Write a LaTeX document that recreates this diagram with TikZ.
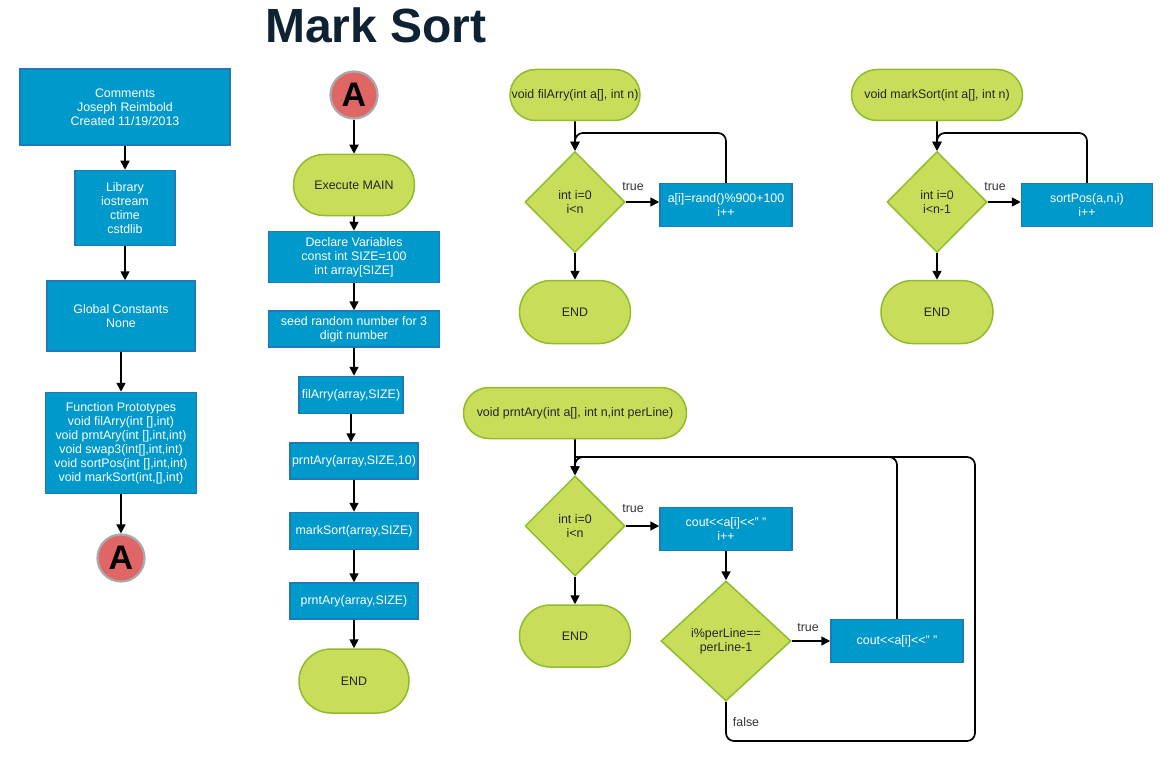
\documentclass[tikz,border=0pt]{standalone}
\usepackage{fontspec}
\setmainfont{Liberation Sans}
\usetikzlibrary{shapes.geometric,shapes.misc,arrows.meta,positioning}

\definecolor{boxblue}{HTML}{0099CC}
\definecolor{boxedge}{HTML}{1D79B8}
\definecolor{termgreen}{HTML}{C8DE5A}
\definecolor{termedge}{HTML}{92BB2C}
\definecolor{conred}{HTML}{E06666}
\definecolor{congray}{HTML}{A9A9A9}
\definecolor{titlenavy}{HTML}{0E2233}

\newcommand\flowfont{\fontsize{12.4}{14}\selectfont}

\tikzset{
  procbox/.style={rectangle, draw=boxedge, line width=1.5pt, fill=boxblue, text=white,
    align=center, inner sep=0pt, font=\flowfont},
  termbox/.style={rounded rectangle, draw=termedge, line width=1.5pt, fill=termgreen,
    text=black!85, align=center, inner sep=0pt, font=\flowfont},
  decbox/.style={diamond, draw=termedge, line width=1.5pt, fill=termgreen,
    text=black!85, align=center, inner sep=0pt, font=\flowfont},
  conbox/.style={circle, draw=congray, line width=2.2pt, fill=conred, inner sep=0pt,
    minimum size=47pt, font=\bfseries\fontsize{34}{34}\selectfont},
  flow/.style={line width=1.7pt, -{Triangle[length=9pt,width=9pt]}},
  loopline/.style={line width=1.7pt, rounded corners=8pt},
  lbl/.style={font=\flowfont, text=black!80, inner sep=0pt}
}

\begin{document}
\begin{tikzpicture}[x=1pt, y=-1pt]
\def \colone {121}
\def \coltwo {354}
\def \colthree {575}
\def \colfour {937}
\useasboundingbox (0,0) rectangle (1170,765);

%Title
\node[anchor=base, text=titlenavy, font=\bfseries\fontsize{48}{48}\selectfont] (title) at (376,43) {Mark Sort};

%Header column
\node[procbox, minimum width=210, minimum height=76] (cmt) at (125,107) {Comments\\Joseph Reimbold\\Created 11/19/2013};
\node[procbox, minimum width=100, minimum height=75] (lib) at (125,208) {Library\\iostream\\ctime\\cstdlib};
\node[procbox, minimum width=148, minimum height=70] (glob) at (\colone,316) {Global Constants\\None};
\node[procbox, minimum width=151, minimum height=101] (proto) at (\colone,443) {Function Prototypes\\void filArry(int [],int)\\void prntAry(int [],int,int)\\void swap3(int[],int,int)\\void sortPos(int [],int,int)\\void markSort(int,[],int)};
\node[conbox] (conA) at (\colone,558) {A};

\draw[flow] (cmt) -- (lib);
\draw[flow] (lib.south) -- (lib.south |- glob.north);
\draw[flow] (glob) -- (proto);
\draw[flow] (proto) -- (conA);

%Main column
\node[conbox] (mainA) at (\coltwo,95) {A};
\node[termbox, minimum width=121, minimum height=61] (exec) at (\coltwo,185) {Execute MAIN};
\node[procbox, minimum width=171, minimum height=51] (decl) at (\coltwo,257) {Declare Variables\\const int SIZE=100\\int array[SIZE]};
\node[procbox, minimum width=171, minimum height=36] (seed) at (\coltwo,329) {seed random number for 3\\digit number};
\node[procbox, minimum width=104, minimum height=37] (fil) at (351,395) {filArry(array,SIZE)};
\node[procbox, minimum width=128, minimum height=36] (prnt1) at (\coltwo,461) {prntAry(array,SIZE,10)};
\node[procbox, minimum width=128, minimum height=37] (mark) at (\coltwo,531) {markSort(array,SIZE)};
\node[procbox, minimum width=128, minimum height=36] (prnt2) at (\coltwo,601) {prntAry(array,SIZE)};
\node[termbox, minimum width=110, minimum height=64] (mainend) at (\coltwo,681) {END};

\draw[flow] (mainA) -- (exec);
\draw[flow] (exec) -- (decl);
\draw[flow] (decl) -- (seed);
\draw[flow] (seed.south) -- (seed.south |- fil.north);
\draw[flow] (fil.south) -- (fil.south |- prnt1.north);
\draw[flow] (prnt1) -- (mark);
\draw[flow] (mark) -- (prnt2);
\draw[flow] (prnt2) -- (mainend);

%filArry
\node[termbox, minimum width=130, minimum height=51] (fhead) at (\colthree,95) {void filArry(int a[], int n)};
\node[decbox, minimum width=100, minimum height=101] (fdec) at (\colthree,202) {int i=0\\i<n};
\node[procbox, minimum width=132, minimum height=43] (fbody) at (726,205) {a[i]=rand()\%900+100\\i++};
\node[termbox, minimum width=111, minimum height=63] (fend) at (\colthree,312) {END};
\node[lbl] (ftrue) at (633,187) {true};
\coordinate (floop) at (\colthree,133);

\draw[flow] (fhead) -- (fdec);
\draw[flow] (fdec) -- (fend);
\draw[flow] (fdec.east) -- (fdec.east -| fbody.west);
\draw[loopline, flow] (fbody.north) |- (floop) -- (fdec.north);

%markSort
\node[termbox, minimum width=171, minimum height=51] (mhead) at (\colfour,95) {void markSort(int a[], int n)};
\node[decbox, minimum width=100, minimum height=101] (mdec) at (\colfour,202) {int i=0\\i<n-1};
\node[procbox, minimum width=131, minimum height=43] (mbody) at (1087,205) {sortPos(a,n,i)\\i++};
\node[termbox, minimum width=112, minimum height=63] (mend) at (\colfour,312) {END};
\node[lbl] (mtrue) at (995,187) {true};
\coordinate (mloop) at (\colfour,133);

\draw[flow] (mhead) -- (mdec);
\draw[flow] (mdec) -- (mend);
\draw[flow] (mdec.east) -- (mdec.east -| mbody.west);
\draw[loopline, flow] (mbody.north) |- (mloop) -- (mdec.north);

%prntAry
\node[termbox, minimum width=223, minimum height=51] (phead) at (\colthree,413) {void prntAry(int a[], int n,int perLine)};
\node[decbox, minimum width=100, minimum height=100] (pdec) at (\colthree,526) {int i=0\\i<n};
\node[procbox, minimum width=132, minimum height=43] (pbody) at (726,529) {cout<{}<a[i]<{}<" "\\i++};
\node[termbox, minimum width=111, minimum height=62] (pend) at (\colthree,636) {END};
\node[decbox, minimum width=130, minimum height=120] (pdectwo) at (726,641) {i\%perLine==\\perLine-1};
\node[procbox, minimum width=132, minimum height=43] (pbodytwo) at (897,641) {cout<{}<a[i]<{}<" "};
\node[lbl] (ptrue) at (633,509) {true};
\node[lbl] (ptruetwo) at (808,628) {true};
\node[lbl] (pfalselbl) at (746,722) {false};
\coordinate (ploop) at (\colthree,457);
\coordinate (pfalse) at (975,741);

\draw[flow] (phead) -- (pdec);
\draw[flow] (pdec) -- (pend);
\draw[flow] (pdec.east) -- (pdec.east -| pbody.west);
\draw[flow] (pbody) -- (pdectwo);
\draw[flow] (pdectwo) -- (pbodytwo);
\draw[loopline] (pdectwo.south) |- (pfalse) |- (ploop);
\draw[loopline, flow] (pbodytwo.north) |- (ploop) -- (pdec.north);

\end{tikzpicture}
\end{document}
